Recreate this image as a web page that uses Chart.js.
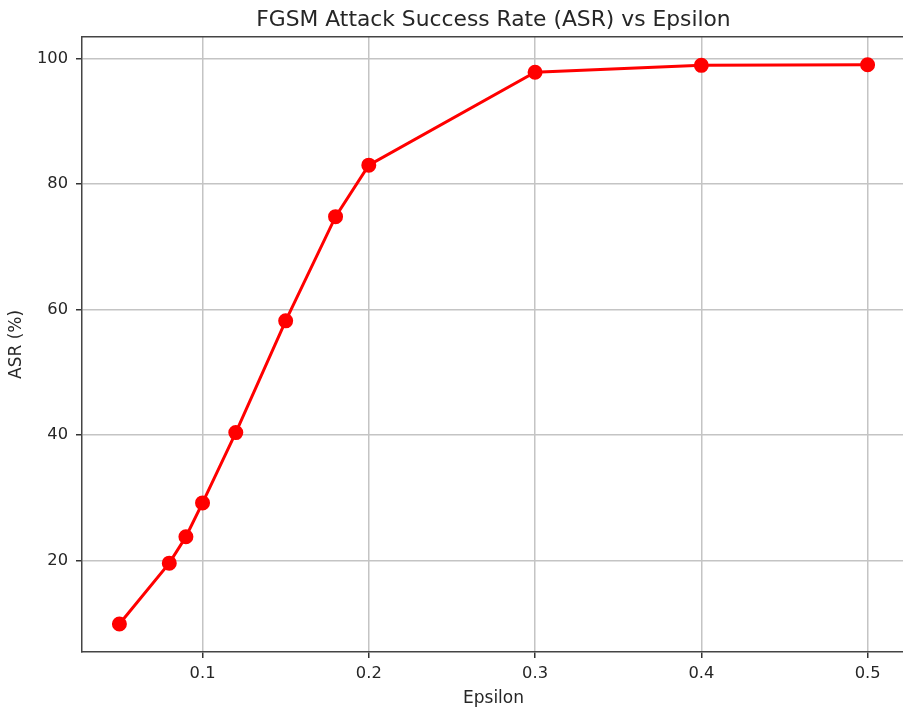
<!DOCTYPE html>
<html>
<head>
<meta charset="utf-8">
<script src="https://cdn.jsdelivr.net/npm/chart.js@4.4.0/dist/chart.umd.min.js"></script>
<style>
  html, body { margin: 0; padding: 0; background: #fff; overflow: hidden; }
  #wrap { width: 903px; height: 710px; overflow: hidden; }
  canvas { display: block; }
</style>
</head>
<body>
<div id="wrap"><canvas id="myChart" width="914" height="710"></canvas></div>
<script>
// data
const epsilon = [0.05, 0.08, 0.09, 0.1, 0.12, 0.15, 0.18, 0.2, 0.3, 0.4, 0.5]
const asr = [9.9, 19.6, 23.8, 29.2, 40.4, 58.2, 74.8, 83.0, 97.8, 98.9, 99.0]
const xTicks = [0.1, 0.2, 0.3, 0.4, 0.5]
const xTickLabels = ['0.1', '0.2', '0.3', '0.4', '0.5']
const yTicks = [20, 40, 60, 80, 100]
const yTickLabels = ['20', '40', '60', '80', '100']

window.onload = function () {
  const ctx = document.getElementById('myChart')
  const font = 'DejaVu Sans'
  const textColor = '#262626'

  // matplotlib style 5% margins around the data
  const xSpan = Math.max(...epsilon) - Math.min(...epsilon)
  const ySpan = Math.max(...asr) - Math.min(...asr)

  const myChart = new Chart(ctx, {
    type: 'scatter',
    data: {
      datasets: [
        {
          label: 'ASR',
          data: epsilon.map((e, i) => ({ x: e, y: asr[i] })),
          showLine: true,
          borderColor: '#ff0000',
          backgroundColor: '#ff0000',
          borderWidth: 3,
          pointRadius: 6,
          pointHoverRadius: 6,
          tension: 0,
        },
      ],
    },
    options: {
      responsive: false,
      animation: false,
      layout: { padding: 0 },
      plugins: {
        legend: { display: false },
        tooltip: { enabled: false },
        title: {
          display: true,
          fullSize: false,
          text: 'FGSM Attack Success Rate (ASR) vs Epsilon',
          color: textColor,
          font: { family: font, size: 21.8, weight: 'normal' },
          padding: { top: 7, bottom: 3.6 },
        },
      },
      scales: {
        x: {
          type: 'linear',
          min: Math.min(...epsilon) - xSpan * 0.05,
          max: Math.max(...epsilon) + xSpan * 0.05,
          afterBuildTicks: function (scale) {
            scale.ticks = xTicks.map((v) => ({ value: v }))
          },
          afterFit: function (scale) {
            scale.height = 58
          },
          ticks: {
            color: textColor,
            font: { family: font, size: 16.3 },
            padding: 6,
            maxRotation: 0,
            callback: function (v) {
              const i = xTicks.indexOf(v)
              return i >= 0 ? xTickLabels[i] : ''
            },
          },
          grid: {
            color: '#c4c4c4',
            lineWidth: 1.5,
            tickColor: '#333',
            tickLength: 6,
          },
          border: { color: '#444', width: 1.5 },
          title: {
            display: true,
            text: 'Epsilon',
            color: textColor,
            font: { family: font, size: 17 },
            padding: { top: 0, bottom: 1 },
          },
        },
        y: {
          type: 'linear',
          min: Math.min(...asr) - ySpan * 0.05,
          max: Math.max(...asr) + ySpan * 0.05,
          afterBuildTicks: function (scale) {
            scale.ticks = yTicks.map((v) => ({ value: v }))
          },
          afterFit: function (scale) {
            scale.width = 82
          },
          ticks: {
            color: textColor,
            font: { family: font, size: 16.3 },
            padding: 8,
            callback: function (v) {
              const i = yTicks.indexOf(v)
              return i >= 0 ? yTickLabels[i] : ''
            },
          },
          grid: {
            color: '#c4c4c4',
            lineWidth: 1.5,
            tickColor: '#333',
            tickLength: 6,
          },
          border: { color: '#444', width: 1.5 },
          title: {
            display: true,
            text: 'ASR (%)',
            color: textColor,
            font: { family: font, size: 17 },
            padding: { top: 6, bottom: 0 },
          },
        },
      },
    },
    // top and right frame lines like the matplotlib axes box
    plugins: [
      {
        id: 'frame',
        afterDraw: function (chart) {
          const a = chart.chartArea
          const c = chart.ctx
          c.save()
          c.strokeStyle = '#444'
          c.lineWidth = 1.5
          c.beginPath()
          c.moveTo(a.left, a.top)
          c.lineTo(a.right, a.top)
          c.lineTo(a.right, a.bottom)
          c.stroke()
          c.restore()
        },
      },
    ],
  })
}
</script>
</body>
</html>
